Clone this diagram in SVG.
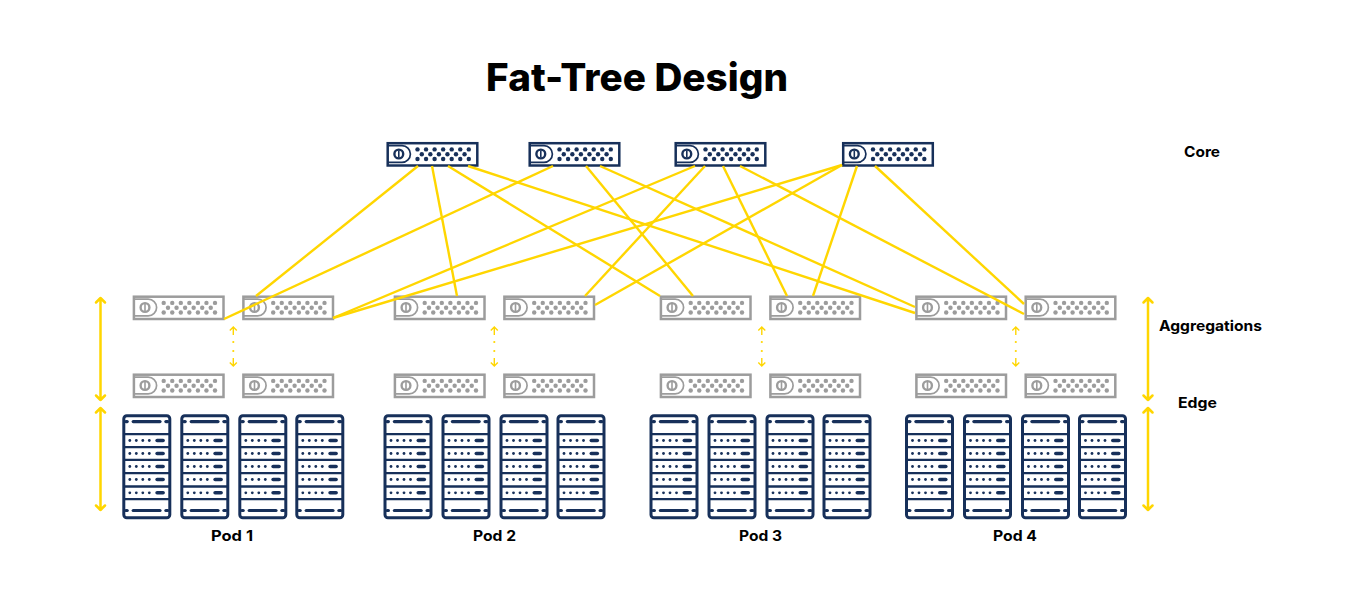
<svg xmlns="http://www.w3.org/2000/svg" xmlns:xlink="http://www.w3.org/1999/xlink" width="1356" height="599" viewBox="0 0 1356 599">
<style>
text{font-family:"Inter","Noto Sans","Liberation Sans",sans-serif;font-weight:700;fill:#000}
.title{font-size:38px;font-weight:800}
.label{font-size:14.5px}
.core{color:#17305a}
.agg{color:#9c9c9c}
.o{fill:none;stroke:currentColor}
.d{fill:currentColor;stroke:none}
.rk{fill:none;stroke:#17305a;stroke-width:3}
.rl{fill:none;stroke:#17305a;stroke-width:2.3}
.rkf{fill:#17305a;stroke:none}
.link{stroke:#ffd600;stroke-width:2.4;fill:none}
.big{stroke:#ffd600;stroke-width:2.5;fill:none;stroke-linecap:round;stroke-linejoin:round}
.small{stroke:#ffd600;stroke-width:1.4;fill:none}
.dot{fill:#ffd600}
</style>
<defs>
<g id="dots">
<circle class="d" cx="0" cy="0" r="2.2"/><circle class="d" cx="8.55" cy="0" r="2.2"/><circle class="d" cx="17.1" cy="0" r="2.2"/><circle class="d" cx="25.65" cy="0" r="2.2"/><circle class="d" cx="34.2" cy="0" r="2.2"/><circle class="d" cx="42.75" cy="0" r="2.2"/><circle class="d" cx="51.3" cy="0" r="2.2"/>
</g>
<g id="dots6">
<circle class="d" cx="0" cy="0" r="2.2"/><circle class="d" cx="8.55" cy="0" r="2.2"/><circle class="d" cx="17.1" cy="0" r="2.2"/><circle class="d" cx="25.65" cy="0" r="2.2"/><circle class="d" cx="34.2" cy="0" r="2.2"/><circle class="d" cx="42.75" cy="0" r="2.2"/>
</g>
<g id="switch">
<rect class="o" x="1.2" y="1.2" width="89.6" height="22.3" stroke-width="2.5"/>
<path class="o" d="M1.2 3.6H15.5a8.4 8.4 0 0 1 0 16.8H1.2" stroke-width="1.7"/>
<circle class="o" cx="12.3" cy="12" r="4.4" stroke-width="2.4"/>
<path class="o" d="M12.3 8.5V15.5" stroke-width="1.6"/>
<use href="#dots" x="31" y="7.4"/>
<use href="#dots6" x="35.3" y="12.2"/>
<use href="#dots" x="31" y="17"/>
</g>
<g id="row">
<circle class="rkf" cx="7.5" cy="0" r="1.4"/><circle class="rkf" cx="14" cy="0" r="1.4"/><circle class="rkf" cx="20.5" cy="0" r="1.4"/><circle class="rkf" cx="27" cy="0" r="1.4"/>
<rect class="rkf" x="33" y="-1.8" width="9.6" height="3.6" rx="1.8"/>
</g>
<g id="rack">
<rect class="rk" x="1.5" y="1.5" width="46" height="102" rx="3"/>
<path class="rl" d="M1.3 19.8H47.7M1.3 32.8H47.7M1.3 45.5H47.7M1.3 58.8H47.7M1.3 72.2H47.7M1.3 84.8H47.7"/>
<rect class="rkf" x="9.3" y="5.7" width="30" height="3.2" rx="1.6"/>
<rect class="rkf" x="2" y="5.7" width="4.5" height="3.2" rx="1.6"/>
<rect class="rkf" x="42" y="5.7" width="5" height="3.2" rx="1.6"/>
<rect class="rkf" x="9.3" y="94.6" width="30" height="3.2" rx="1.6"/>
<rect class="rkf" x="2" y="94.6" width="4.5" height="3.2" rx="1.6"/>
<rect class="rkf" x="42" y="94.6" width="5" height="3.2" rx="1.6"/>
<use href="#row" y="26.2"/><use href="#row" y="39.2"/><use href="#row" y="52.2"/><use href="#row" y="65.2"/><use href="#row" y="78.5"/>
</g>
<g id="pod-racks">
<use href="#rack" x="0"/><use href="#rack" x="58"/><use href="#rack" x="116"/><use href="#rack" x="173"/>
</g>
<path id="arrow" class="big" d="M0 0V102M-4.5 4.5L0 0L4.5 4.5M-4.5 97.5L0 102L4.5 97.5"/>
<g id="mini">
<path class="small" d="M0 0V8M-3.5 3.5L0 0L3.5 3.5M0 31V39M-3.5 35.5L0 39L3.5 35.5"/>
<circle class="dot" cx="0" cy="15" r="1.1"/><circle class="dot" cx="0" cy="24" r="1.1"/>
</g>
</defs>
<rect width="1356" height="599" fill="#fff"/>
<text id="title" class="title" x="486" y="91" textLength="302" lengthAdjust="spacingAndGlyphs">Fat-Tree Design</text>

<g id="core-1" class="core"><use href="#switch" x="386.5" y="142"/></g>
<g id="core-2" class="core"><use href="#switch" x="528.5" y="142"/></g>
<g id="core-3" class="core"><use href="#switch" x="674.5" y="142"/></g>
<g id="core-4" class="core"><use href="#switch" x="842" y="142"/></g>

<g id="agg-1" class="agg"><use href="#switch" x="132.7" y="295.5"/></g>
<g id="agg-2" class="agg"><use href="#switch" x="242.2" y="295.5"/></g>
<g id="agg-3" class="agg"><use href="#switch" x="393.7" y="295.5"/></g>
<g id="agg-4" class="agg"><use href="#switch" x="503.2" y="295.5"/></g>
<g id="agg-5" class="agg"><use href="#switch" x="659.7" y="295.5"/></g>
<g id="agg-6" class="agg"><use href="#switch" x="769.2" y="295.5"/></g>
<g id="agg-7" class="agg"><use href="#switch" x="915.2" y="295.5"/></g>
<g id="agg-8" class="agg"><use href="#switch" x="1024.5" y="295.5"/></g>

<g id="edge-1" class="agg"><use href="#switch" x="132.7" y="373.5"/></g>
<g id="edge-2" class="agg"><use href="#switch" x="242.2" y="373.5"/></g>
<g id="edge-3" class="agg"><use href="#switch" x="393.7" y="373.5"/></g>
<g id="edge-4" class="agg"><use href="#switch" x="503.2" y="373.5"/></g>
<g id="edge-5" class="agg"><use href="#switch" x="659.7" y="373.5"/></g>
<g id="edge-6" class="agg"><use href="#switch" x="769.2" y="373.5"/></g>
<g id="edge-7" class="agg"><use href="#switch" x="915.2" y="373.5"/></g>
<g id="edge-8" class="agg"><use href="#switch" x="1024.5" y="373.5"/></g>

<g id="pod-1-racks"><use href="#pod-racks" x="122.3" y="414.3"/></g>
<g id="pod-2-racks"><use href="#pod-racks" x="383.5" y="414.3"/></g>
<g id="pod-3-racks"><use href="#pod-racks" x="649.5" y="414.3"/></g>
<g id="pod-4-racks"><use href="#pod-racks" x="905" y="414.3"/></g>

<g id="connectors">
<path class="link" d="M418 166L256 296"/>
<path class="link" d="M432 166L457 296"/>
<path class="link" d="M448 166L660 296"/>
<path class="link" d="M468 166L915 313"/>
<path class="link" d="M553 166L224 319"/>
<path class="link" d="M586 166L693 296"/>
<path class="link" d="M600 166L915 307"/>
<path class="link" d="M695 166L333 318"/>
<path class="link" d="M705 166L585 296"/>
<path class="link" d="M723 166L787 296"/>
<path class="link" d="M740 166L1024 314"/>
<path class="link" d="M842 165L333 318"/>
<path class="link" d="M842 165L595 305"/>
<path class="link" d="M857 166L813 296"/>
<path class="link" d="M875 166L1024 304"/>
<use href="#arrow" x="100.5" y="298"/>
<use href="#arrow" x="100.5" y="408"/>
<use href="#arrow" x="1148" y="298"/>
<use href="#arrow" x="1148" y="408"/>
<use href="#mini" x="233.3" y="327"/>
<use href="#mini" x="494.3" y="327"/>
<use href="#mini" x="761.8" y="327"/>
<use href="#mini" x="1015.8" y="327"/>
</g>

<text id="label-core" class="label" x="1184" y="157.3" textLength="36" lengthAdjust="spacingAndGlyphs">Core</text>
<text id="label-aggregations" class="label" x="1159" y="331.3" textLength="103" lengthAdjust="spacingAndGlyphs">Aggregations</text>
<text id="label-edge" class="label" x="1178" y="407.5" textLength="39" lengthAdjust="spacingAndGlyphs">Edge</text>
<text id="label-pod-1" class="label" x="211" y="540.5" textLength="42" lengthAdjust="spacingAndGlyphs">Pod 1</text>
<text id="label-pod-2" class="label" x="473" y="540.5" textLength="43" lengthAdjust="spacingAndGlyphs">Pod 2</text>
<text id="label-pod-3" class="label" x="739" y="540.5" textLength="43" lengthAdjust="spacingAndGlyphs">Pod 3</text>
<text id="label-pod-4" class="label" x="993" y="540.5" textLength="44" lengthAdjust="spacingAndGlyphs">Pod 4</text>
</svg>
